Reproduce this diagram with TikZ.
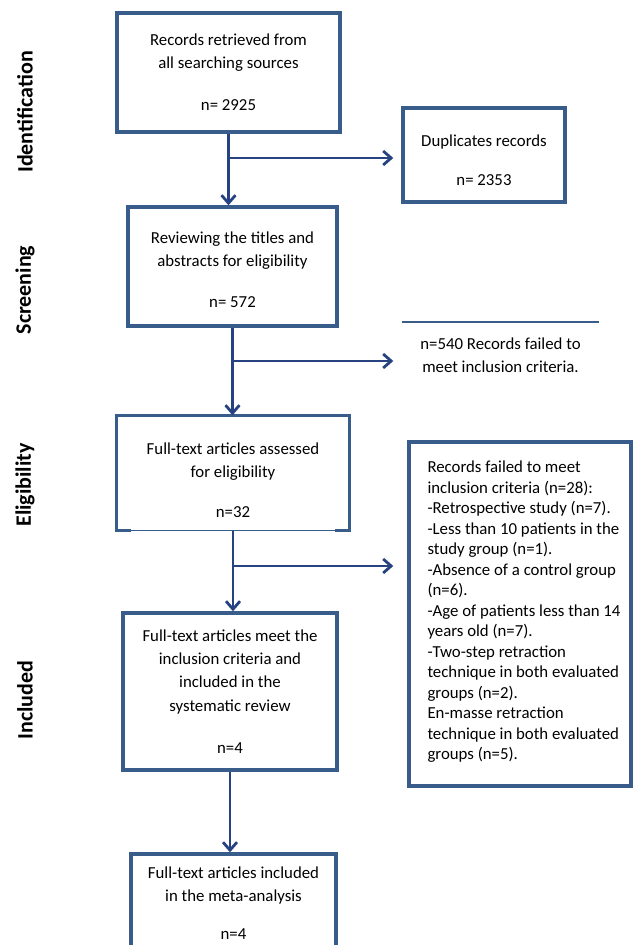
\documentclass[tikz,border=0pt]{standalone}
\usepackage{fontspec}
\setmainfont{Carlito}
\usepackage{xcolor}
\definecolor{prismablue}{RGB}{56,93,138}
\definecolor{prismanavy}{RGB}{38,66,128}
\usetikzlibrary{arrows.meta, positioning}

\tikzset{
  stagebox/.style={draw=prismablue, line width=3.4pt, fill=white, align=center,
                   font=\fontsize{16.8}{23.3}\selectfont, inner sep=0pt},
  flowarrow/.style={prismanavy, line width=2.8pt,
                    -{Straight Barb[length=8pt, width=14pt]}},
  phaselabel/.style={rotate=90, font=\fontsize{22}{26}\selectfont\bfseries},
}

\begin{document}
\begin{tikzpicture}[x=1pt, y=-1pt]
\useasboundingbox (0,0) rectangle (633,945);
\clip (0,0) rectangle (633,945);

% === Phase labels ===
\node[phaselabel] (idlabel) at (25,112) {Identification};
\node[phaselabel] (sclabel) at (25,290) {Screening};
\node[phaselabel] (ellabel) at (25,485) {Eligibility};
\node[phaselabel] (inlabel) at (25,700) {Included};

% === Main column ===
\node[stagebox, minimum width=223pt, minimum height=119pt] (records) at (228.5,72.5)
     {Records retrieved from\\all searching sources\\[18.7pt]n= 2925};
\node[stagebox, minimum width=209pt, minimum height=119pt] (titles) at (232.5,266.5)
     {\rule{0pt}{18.6pt}Reviewing the titles and\\abstracts for eligibility\\[17.7pt]n= 572};
\node[stagebox, draw=none, fill=none, minimum width=230pt, minimum height=112pt] (fulltext) at (233,473)
     {\rule{0pt}{26pt}Full-text articles assessed\\for eligibility\\[16pt]n=32};
\node[stagebox, minimum width=214pt, minimum height=157pt] (review) at (230,691.5)
     {Full-text articles meet the\\inclusion criteria and\\included in the\\systematic review\\[18.7pt]n=4};
\node[stagebox, minimum width=205pt, minimum height=98pt] (meta) at (233.5,903)
     {Full-text articles included\\in the meta-analysis\\[15pt]n=4};

% Full-text box: thin bottom edge, thick corners
\draw[prismablue, line width=1.2pt] (fulltext.south west) -- (fulltext.south east);
\draw[prismablue, line width=3.4pt]
     ([xshift=15pt]fulltext.south west) -- (fulltext.south west) -- (fulltext.north west)
     -- (fulltext.north east) -- (fulltext.south east) -- ([xshift=-15pt]fulltext.south east);

% === Excluded column ===
\node[stagebox, minimum width=162pt, minimum height=94pt] (duplicates) at (484,155)
     {\rule{0pt}{21.6pt}Duplicates records\\[15.7pt]n= 2353};
\node[stagebox, draw=none, minimum width=193pt, minimum height=62pt] (failed) at (500.5,355)
     {n=540 Records failed to\\meet inclusion criteria.};
\draw[prismablue, line width=2pt] (failed.north west) -- (failed.north east);
\node[stagebox, minimum width=222pt, minimum height=344pt] (criteria) at (520,614) {};
\node[align=left, inner sep=0pt, font=\fontsize{16.8}{20.5}\selectfont,
      right=20pt of criteria.west, yshift=2pt] (criteriatext)
     {Records failed to meet\\inclusion criteria (n=28):\\-Retrospective study (n=7).\\
      -Less than 10 patients in the\\study group (n=1).\\-Absence of a control group\\
      (n=6).\\-Age of patients less than 14\\years old (n=7).\\-Two-step retraction\\
      technique in both evaluated\\groups (n=2).\\En-masse retraction\\
      technique in both evaluated\\groups (n=5).};

% === Arrows ===
\coordinate (split1) at (229,158);
\coordinate (split2) at (231,361);
\coordinate (split3) at (233,566);

\draw[flowarrow] (records.south) -- (records.south |- titles.north);
\draw[flowarrow] (titles.south) -- (titles.south |- fulltext.north);
\draw[flowarrow] (fulltext.south) -- (fulltext.south |- review.north);
\draw[flowarrow] (review.south) -- (review.south |- meta.north);

\draw[flowarrow, shorten >=8pt] (split1) -- (split1 -| duplicates.west);
\draw[flowarrow, shorten >=9pt] (split2) -- (split2 -| failed.west);
\draw[flowarrow, shorten >=14pt] (split3) -- (split3 -| criteria.west);

\end{tikzpicture}
\end{document}
